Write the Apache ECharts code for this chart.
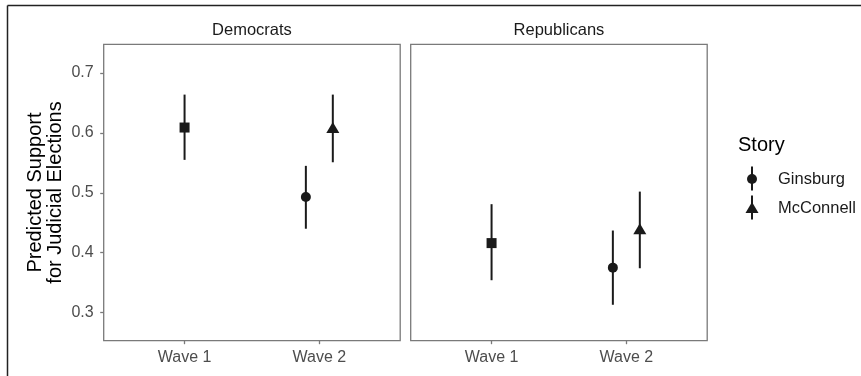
<!DOCTYPE html>
<html>
<head>
<meta charset="utf-8">
<script src="https://cdn.jsdelivr.net/npm/echarts@6/dist/echarts.min.js"></script>
<style>
  html, body { margin: 0; padding: 0; background: #ffffff; }
  #chart { width: 861px; height: 376px; }
</style>
</head>
<body>
<div id="chart"></div>
<script>
// Facets, x categories and legend entries
const parties = ['Democrats', 'Republicans'];
const waves = ['Wave 1', 'Wave 2'];
const stories = ['Ginsburg', 'McConnell'];
const yTicks = [0.3, 0.4, 0.5, 0.6, 0.7];

// Wave 1 estimates (pooled), one value per party
const wave1Est = [0.609, 0.416];
const wave1Lo  = [0.555, 0.354];
const wave1Hi  = [0.664, 0.481];

// Wave 2 estimates by story, one value per party
const ginsburgEst = [0.493, 0.375];
const ginsburgLo  = [0.440, 0.313];
const ginsburgHi  = [0.545, 0.437];

const mcconnellEst = [0.609, 0.440];
const mcconnellLo  = [0.551, 0.374];
const mcconnellHi  = [0.664, 0.502];

const INK = '#1a1a1a';
const AXIS_GREY = '#7a7a7a';
const LABEL_GREY = '#4d4d4d';
const FONT = '"Liberation Sans", Arial, Helvetica, sans-serif';
const DODGE = 0.1;

const panelLeft = [103.7, 410.7];
const panelTop = 44.3;
const panelW = 296.5;
const panelH = 296.4;

const grids = parties.map((p, i) => ({
  left: panelLeft[i], top: panelTop, width: panelW, height: panelH,
  show: true, borderColor: AXIS_GREY, borderWidth: 1.3, backgroundColor: 'transparent'
}));

const xAxes = parties.map((p, i) => ({
  type: 'value', gridIndex: i, min: 0.4, max: 2.6,
  splitLine: { show: false },
  axisLine: { show: false },
  axisTick: { show: true, length: 3.5, customValues: [1, 2], lineStyle: { color: AXIS_GREY, width: 1.3 } },
  axisLabel: {
    customValues: [1, 2], margin: 9, color: LABEL_GREY, fontSize: 16, fontFamily: FONT,
    formatter: v => waves[Math.round(v) - 1]
  }
}));

const yAxes = parties.map((p, i) => ({
  type: 'value', gridIndex: i, min: 0.253, max: 0.748,
  splitLine: { show: false },
  axisLine: { show: false },
  axisTick: { show: i === 0, length: 3.5, customValues: yTicks, lineStyle: { color: AXIS_GREY, width: 1.3 } },
  axisLabel: {
    show: i === 0, customValues: yTicks, margin: 10, color: LABEL_GREY, fontSize: 16, fontFamily: FONT,
    formatter: v => v.toFixed(1)
  },
  name: i === 0 ? 'Predicted Support\nfor Judicial Elections' : '',
  nameLocation: 'middle', nameRotate: 90, nameGap: 38,
  nameTextStyle: { color: '#000000', fontSize: 20, fontFamily: FONT, lineHeight: 20 }
}));

// Rows: [x, estimate, low, high] for each panel and marker shape
function rows(est, lo, hi, xpos) {
  return parties.map((p, i) => ({ panel: i, x: xpos, y: est[i], lo: lo[i], hi: hi[i] }));
}
const groups = [
  { name: waves[0], symbol: 'rect', size: 10, data: rows(wave1Est, wave1Lo, wave1Hi, 1) },
  { name: stories[0], symbol: 'circle', size: 10, data: rows(ginsburgEst, ginsburgLo, ginsburgHi, 2 - DODGE) },
  { name: stories[1], symbol: 'triangle', size: [13, 11], data: rows(mcconnellEst, mcconnellLo, mcconnellHi, 2 + DODGE) }
];

const series = [];
parties.forEach((p, i) => {
  groups.forEach(g => {
    const d = g.data.filter(r => r.panel === i);
    series.push({
      type: 'custom', xAxisIndex: i, yAxisIndex: i, z: 2,
      data: d.map(r => [r.x, r.lo, r.hi]),
      renderItem: (params, api) => {
        const a = api.coord([api.value(0), api.value(1)]);
        const b = api.coord([api.value(0), api.value(2)]);
        return { type: 'line', shape: { x1: a[0], y1: a[1], x2: b[0], y2: b[1] },
                 style: { stroke: INK, lineWidth: 2 } };
      },
      silent: true
    });
    series.push({
      type: 'scatter', name: g.name, xAxisIndex: i, yAxisIndex: i, z: 3,
      symbol: g.symbol, symbolSize: g.size,
      itemStyle: { color: INK, opacity: 1 },
      data: d.map(r => [r.x, r.y]),
      silent: true
    });
  });
});

// Facet strip titles, legend and outer frame
const graphics = [
  { type: 'line', shape: { x1: 7.5, y1: 5.5, x2: 861, y2: 5.5 }, style: { stroke: '#222', lineWidth: 1.5 } },
  { type: 'line', shape: { x1: 7.5, y1: 5.5, x2: 7.5, y2: 376 }, style: { stroke: '#222', lineWidth: 1.5 } }
];
parties.forEach((p, i) => {
  graphics.push({ type: 'text', x: panelLeft[i] + panelW / 2, y: 30.5,
    style: { text: p, fill: INK, font: '16.5px ' + FONT, textAlign: 'center', textVerticalAlign: 'middle' } });
});
graphics.push({ type: 'text', x: 738, y: 145,
  style: { text: 'Story', fill: '#000', font: '20px ' + FONT, textAlign: 'left', textVerticalAlign: 'middle' } });
const legendY = [179, 208];
stories.forEach((s, k) => {
  const cy = legendY[k];
  graphics.push({ type: 'line', shape: { x1: 752, y1: cy - 12.5, x2: 752, y2: cy + 11.5 }, style: { stroke: INK, lineWidth: 2 } });
  if (k === 0) {
    graphics.push({ type: 'circle', shape: { cx: 752, cy: cy, r: 5 }, style: { fill: INK } });
  } else {
    graphics.push({ type: 'polygon', shape: { points: [[752, cy - 6], [758.5, cy + 5], [745.5, cy + 5]] }, style: { fill: INK } });
  }
  graphics.push({ type: 'text', x: 778, y: cy,
    style: { text: s, fill: INK, font: '16.5px ' + FONT, textAlign: 'left', textVerticalAlign: 'middle' } });
});

const chart = echarts.init(document.getElementById('chart'), null, { renderer: 'canvas' });
chart.setOption({
  animation: false,
  backgroundColor: '#ffffff',
  grid: grids,
  xAxis: xAxes,
  yAxis: yAxes,
  series: series,
  graphic: graphics
});
</script>
</body>
</html>
